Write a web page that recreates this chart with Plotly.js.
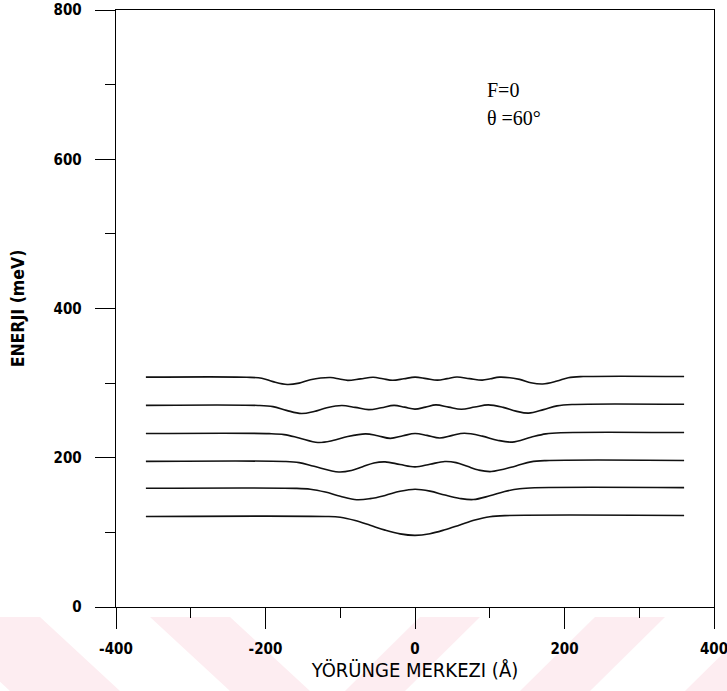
<!DOCTYPE html>
<html>
<head>
<meta charset="utf-8">
<script src="https://cdn.plot.ly/plotly-3.0.1.min.js"></script>
<style>
  html, body { margin: 0; padding: 0; background: #ffffff; }
  #chart { width: 727px; height: 691px; }
</style>
</head>
<body>
<div id="chart"></div>
<script>
// ---- Data ----
const xLabel = 'YÖRÜNGE MERKEZI (Å)';
const yLabel = 'ENERJI (meV)';
const noteF = 'F=0';
const noteTheta = 'θ =60°';
const xTickVals = [-400, -200, 0, 200, 400];
const xTickText = ['-400', '-200', '0', '200', '400'];
const yTickVals = [0, 200, 400, 600, 800];
const yTickText = ['0', '200', '400', '600', '800'];

const x1 = [-360, -120, -100, -80, -60, -40, -20, 0, 20, 40, 60, 80, 100, 120, 360];
const e1 = [121.3, 121.3, 120.2, 115.8, 109.5, 103.0, 98.0, 96.0, 98.2, 103.5, 110.0, 116.5, 121.0, 122.5, 122.7];

const x2 = [-360, -160, -140, -120, -100, -78, -60, -40, -20, 0, 20, 40, 60, 78, 100, 120, 140, 160, 360];
const e2 = [159.1, 159.0, 157.8, 154.0, 148.5, 143.8, 145.2, 149.5, 155.0, 157.8, 155.3, 150.0, 145.5, 144.0, 149.0, 154.8, 158.5, 159.8, 160.0];

const x3 = [-360, -175, -155, -135, -102, -85, -70, -55, -40, -20, 0, 20, 40, 55, 70, 85, 102, 135, 155, 175, 360];
const e3 = [195.1, 195.0, 193.5, 188.5, 181.0, 183.0, 188.0, 193.0, 194.5, 191.0, 187.8, 191.3, 195.0, 193.5, 188.5, 183.5, 181.5, 189.0, 194.5, 196.2, 196.4];

const x4 = [-360, -195, -175, -155, -130, -110, -90, -66, -50, -33, -16, 0, 16, 33, 50, 66, 90, 110, 130, 155, 175, 195, 360];
const e4 = [232.4, 232.3, 231.0, 226.5, 220.5, 223.0, 228.5, 232.0, 229.5, 226.0, 229.5, 232.5, 230.0, 226.5, 230.0, 232.8, 229.0, 223.5, 221.0, 227.5, 232.0, 233.6, 233.8];

const x5 = [-360, -210, -190, -172, -152, -135, -118, -98, -80, -62, -45, -28, -14, 0, 14, 28, 45, 62, 80, 98, 118, 135, 152, 172, 190, 210, 360];
const e5 = [270.2, 270.1, 268.5, 263.5, 259.2, 262.0, 267.0, 270.0, 267.5, 264.5, 267.0, 270.2, 267.8, 265.2, 267.8, 270.8, 267.8, 265.0, 268.0, 270.8, 267.5, 262.5, 259.8, 264.5, 269.5, 271.4, 271.6];

const x6 = [-360, -225, -205, -190, -171, -155, -140, -113, -101, -90, -73, -56, -43, -30, -15, 0, 15, 30, 43, 56, 73, 90, 101, 113, 140, 155, 171, 190, 205, 225, 360];
const e6 = [308.0, 307.9, 306.5, 302.0, 298.2, 300.0, 304.5, 307.5, 305.5, 303.7, 305.7, 307.8, 305.8, 303.8, 305.8, 308.0, 306.0, 304.0, 306.0, 308.2, 306.0, 304.0, 305.8, 308.0, 305.0, 300.5, 298.8, 302.8, 307.3, 308.8, 308.9];

const seriesX = [x1, x2, x3, x4, x5, x6];
const seriesY = [e1, e2, e3, e4, e5, e6];

// ---- Traces ----
const traces = seriesX.map((xs, i) => ({
  x: xs,
  y: seriesY[i],
  type: 'scatter',
  mode: 'lines',
  line: { color: '#111111', width: 1.6, shape: 'spline', smoothing: 1 },
  hoverinfo: 'skip',
  showlegend: false
}));

// ---- Watermark bands (pixel geometry converted to paper coords) ----
const W = 727, H = 691, ML = 116, MR = 13, MT = 10, MB = 84;
const PW = W - ML - MR, PH = H - MT - MB;
function px(x) { return (x - ML) / PW; }
function py(y) { return (H - MB - y) / PH; }
function band(tx1, tx2, bx1, bx2) {
  const t = 617, b = 691;
  return {
    type: 'path', xref: 'paper', yref: 'paper', layer: 'below',
    path: `M ${px(tx1)} ${py(t)} L ${px(tx2)} ${py(t)} L ${px(bx2)} ${py(b)} L ${px(bx1)} ${py(b)} Z`,
    fillcolor: '#fdedf1', line: { width: 0 }
  };
}
const shapes = [
  band(-70, 40, 10, 120),
  band(150, 230, 230, 310),
  band(420, 480, 345, 405),
  band(595, 665, 520, 590),
  band(760, 840, 685, 765)
];

const tickFont = { family: 'DejaVu Sans Condensed, DejaVu Sans, Liberation Sans, sans-serif', size: 15, color: '#000', weight: 'bold' };

const layout = {
  width: W, height: H,
  margin: { l: ML, r: MR, t: MT, b: MB, pad: 0 },
  paper_bgcolor: '#ffffff',
  plot_bgcolor: 'rgba(0,0,0,0)',
  showlegend: false,
  shapes: shapes,
  xaxis: {
    range: [-400, 400],
    tickmode: 'array', tickvals: xTickVals, ticktext: xTickText,
    ticks: 'outside', ticklen: 21, tickwidth: 1, tickcolor: '#000',
    minor: { dtick: 100, tick0: 0, ticks: 'outside', ticklen: 10, tickwidth: 1, tickcolor: '#000' },
    showline: true, linecolor: '#000', linewidth: 1.3, mirror: true,
    showgrid: false, zeroline: false,
    tickfont: tickFont,
    ticklabelstandoff: 7,
    ticklabeloverflow: 'allow',
    automargin: false,
    title: { text: xLabel, standoff: 4, font: { family: 'DejaVu Sans Condensed, DejaVu Sans, sans-serif', size: 20, color: '#000' } }
  },
  yaxis: {
    range: [0, 800],
    tickmode: 'array', tickvals: yTickVals, ticktext: yTickText,
    ticks: 'outside', ticklen: 20, tickwidth: 1, tickcolor: '#000',
    minor: { dtick: 100, tick0: 0, ticks: 'outside', ticklen: 10, tickwidth: 1, tickcolor: '#000' },
    showline: true, linecolor: '#000', linewidth: 1.3, mirror: true,
    showgrid: false, zeroline: false,
    tickfont: tickFont,
    ticklabelstandoff: 10,
    ticklabeloverflow: 'allow',
    automargin: false,
    title: { text: yLabel, standoff: 24, font: { family: 'DejaVu Sans Condensed, DejaVu Sans, sans-serif', size: 17.5, color: '#000', weight: 'bold' } }
  },
  annotations: [
    { x: 93, y: 693, xref: 'x', yref: 'y', text: noteF, showarrow: false, xanchor: 'left', yanchor: 'middle',
      font: { family: 'Liberation Serif, Times New Roman, serif', size: 20, color: '#000' } },
    { x: 93, y: 655, xref: 'x', yref: 'y', text: noteTheta, showarrow: false, xanchor: 'left', yanchor: 'middle',
      font: { family: 'Liberation Serif, Times New Roman, serif', size: 20, color: '#000' } }
  ]
};

Plotly.newPlot('chart', traces, layout, { displayModeBar: false, staticPlot: true });
</script>
</body>
</html>
